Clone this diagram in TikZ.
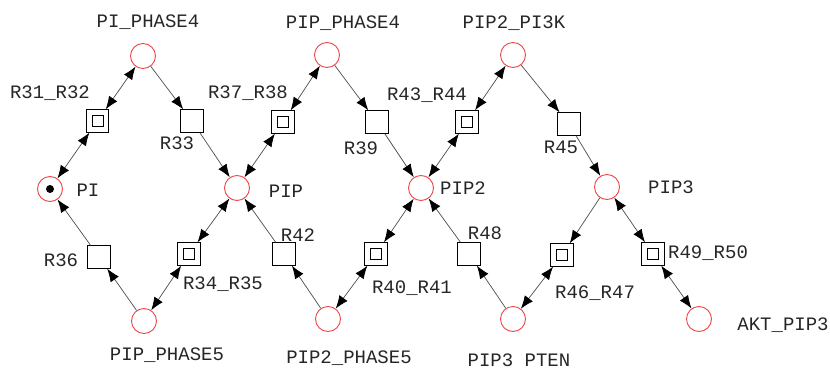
\documentclass[tikz,border=0pt]{standalone}
\usepackage{fontspec}
\setmainfont{Liberation Mono}
\usetikzlibrary{arrows.meta}
\definecolor{placered}{RGB}{240,70,70}
\tikzset{
  place/.style={circle,draw=placered,line width=0.9pt,fill=white,minimum size=25pt,inner sep=0pt},
  token/.style={place,path picture={\fill[black] (path picture bounding box.center) circle (4pt);}},
  trans/.style={rectangle,draw=black,line width=0.9pt,fill=white,minimum size=22.5pt,inner sep=0pt},
  dtrans/.style={trans,path picture={\draw[line width=0.9pt] (path picture bounding box.center) +(-5.5pt,-5.5pt) rectangle +(5.5pt,5.5pt);}},
  lbl/.style={inner sep=0pt,font=\fontsize{19}{19}\selectfont,text=black!85},
  tip/.tip={Latex[length=13pt,width=10pt,color=black]},
  arc/.style={draw=black!70,line width=0.7pt,-tip},
  darc/.style={draw=black!70,line width=0.7pt,tip-tip}
}
\begin{document}
\begin{tikzpicture}[x=1pt,y=-1pt]
\useasboundingbox (0,0) rectangle (830,369);
% places
\node[place] (piph4) at (143,56) {};
\node[place] (pipph4) at (327,55) {};
\node[place] (pip2pi3k) at (513,55) {};
\node[token] (pi) at (50,189) {};
\node[place] (pip) at (237,188) {};
\node[place] (pip2) at (421,188) {};
\node[place] (pip3) at (607,187) {};
\node[place] (pipph5) at (144,321) {};
\node[place] (pip2ph5) at (328,319) {};
\node[place] (pip3pten) at (513,319) {};
\node[place] (akt) at (699,319) {};
% transitions
\node[dtrans] (r3132) at (97.5,121) {};
\node[trans] (r33) at (192,121) {};
\node[dtrans] (r3738) at (283,122) {};
\node[trans] (r39) at (377,122) {};
\node[dtrans] (r4344) at (467,122) {};
\node[trans] (r45) at (569,124) {};
\node[trans] (r36) at (99,257) {};
\node[dtrans] (r3435) at (189,254) {};
\node[trans] (r42) at (284,254) {};
\node[dtrans] (r4041) at (376,254) {};
\node[trans] (r48) at (469,254) {};
\node[dtrans] (r4647) at (562,255) {};
\node[dtrans] (r4950) at (653,254) {};
% arcs
\draw[darc] (r3132) -- (piph4);
\draw[darc] (r3132) -- (pi);
\draw[arc] (piph4) -- (r33);
\draw[arc] (r33) -- (pip);
\draw[darc] (r3738) -- (pipph4);
\draw[darc] (r3738) -- (pip);
\draw[arc] (pipph4) -- (r39);
\draw[arc] (r39) -- (pip2);
\draw[darc] (r4344) -- (pip2pi3k);
\draw[darc] (r4344) -- (pip2);
\draw[arc] (pip2pi3k) -- (r45);
\draw[arc] (r45) -- (pip3);
\draw[arc] (pipph5) -- (r36);
\draw[arc] (r36) -- (pi);
\draw[darc] (r3435) -- (pipph5);
\draw[darc] (r3435) -- (pip);
\draw[arc] (pip2ph5) -- (r42);
\draw[arc] (r42) -- (pip);
\draw[darc] (r4041) -- (pip2ph5);
\draw[darc] (r4041) -- (pip2);
\draw[arc] (pip3pten) -- (r48);
\draw[arc] (r48) -- (pip2);
\draw[arc] (pip3) -- (r4647);
\draw[darc] (r4647) -- (pip3pten);
\draw[darc] (r4950) -- (pip3);
\draw[darc] (r4950) -- (akt);
% labels
\node[lbl] (l1) at (148,22) {PI\_PHASE4};
\node[lbl] (l2) at (343,23) {PIP\_PHASE4};
\node[lbl] (l3) at (514,23) {PIP2\_PI3K};
\node[lbl] (l4) at (50,93) {R31\_R32};
\node[lbl] (l5) at (177,143) {R33};
\node[lbl] (l6) at (248,93) {R37\_R38};
\node[lbl] (l7) at (361,148) {R39};
\node[lbl] (l8) at (427,95) {R43\_R44};
\node[lbl] (l9) at (561,147) {R45};
\node[lbl] (l10) at (88,190) {PI};
\node[lbl] (l11) at (286,191) {PIP};
\node[lbl] (l12) at (463,188) {PIP2};
\node[lbl] (l13) at (671,187) {PIP3};
\node[lbl] (l14) at (61,260) {R36};
\node[lbl] (l15) at (223,284) {R34\_R35};
\node[lbl] (l16) at (298,235) {R42};
\node[lbl] (l17) at (412,288) {R40\_R41};
\node[lbl] (l18) at (485,233) {R48};
\node[lbl] (l19) at (595,293) {R46\_R47};
\node[lbl] (l20) at (708,253) {R49\_R50};
\node[lbl] (l21) at (167,355) {PIP\_PHASE5};
\node[lbl] (l22) at (349,358) {PIP2\_PHASE5};
\node[lbl] (l23) at (519,360) {PIP3 PTEN};
\node[lbl] (l24) at (783,325) {AKT\_PIP3};
\end{tikzpicture}
\end{document}
